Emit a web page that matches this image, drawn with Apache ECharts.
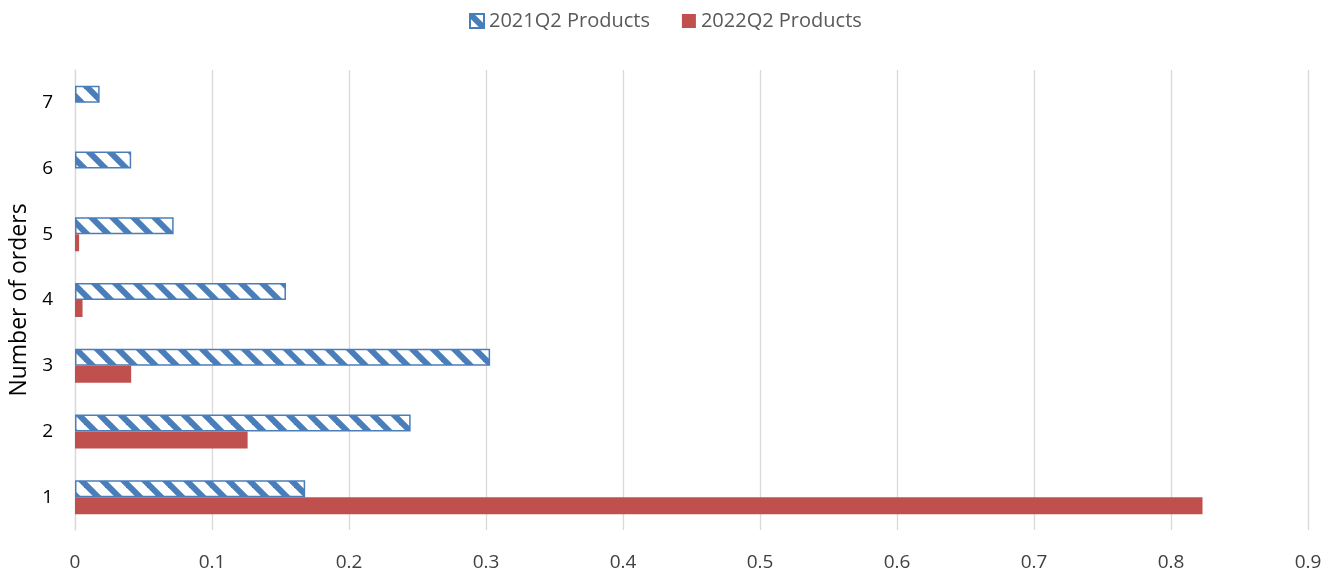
<!DOCTYPE html>
<html>
<head>
<meta charset="utf-8">
<script src="https://cdn.jsdelivr.net/npm/echarts@6/dist/echarts.min.js"></script>
<style>
  html, body { margin: 0; padding: 0; background: #fff; }
  #chart { width: 1339px; height: 572px; }
</style>
</head>
<body>
<div id="chart"></div>
<script>
var orders = ['1', '2', '3', '4', '5', '6', '7'];
var products2021 = [0.168, 0.245, 0.303, 0.154, 0.072, 0.041, 0.018];
var products2022 = [0.823, 0.126, 0.041, 0.0055, 0.003, 0, 0];
var xTicks = [0, 0.1, 0.2, 0.3, 0.4, 0.5, 0.6, 0.7, 0.8, 0.9];

// diagonal hatch for the 2021 bars
function makeHatch () {
  var s = 21;
  var c = document.createElement('canvas');
  c.width = s; c.height = s;
  var ctx = c.getContext('2d');
  ctx.fillStyle = '#fff';
  ctx.fillRect(0, 0, s, s);
  ctx.strokeStyle = '#4a7ebb';
  ctx.lineWidth = 6;
  for (var k = -2; k <= 2; k++) {
    ctx.beginPath();
    ctx.moveTo(k * s - s, -s);
    ctx.lineTo(k * s + 2 * s, 2 * s);
    ctx.stroke();
  }
  return c;
}

var chartDom = document.getElementById('chart');
var myChart = echarts.init(chartDom);
var option;

option = {
  animation: false,
  textStyle: { fontFamily: 'Open Sans' },
  legend: {
    data: ['2021Q2 Products', '2022Q2 Products'],
    icon: 'rect',
    left: 464,
    top: 6,
    itemWidth: 14,
    itemHeight: 14,
    itemGap: 32,
    textStyle: { fontSize: 20, color: '#595959' }
  },
  grid: { left: 75, right: 31, top: 70, bottom: 42, containLabel: false, outerBoundsMode: 'none' },
  xAxis: {
    type: 'value',
    min: 0,
    max: 0.9,
    interval: 0.1,
    axisLine: { show: false },
    axisTick: { show: false },
    axisLabel: {
      fontSize: 19,
      color: '#404040',
      margin: 23,
      formatter: function (v) {
        var t = xTicks.find(function (x) { return Math.abs(x - v) < 1e-9; });
        return t === undefined ? '' : String(t);
      }
    },
    splitLine: { lineStyle: { color: '#d9d9d9', width: 1.3 } }
  },
  yAxis: {
    type: 'category',
    data: orders,
    name: 'Number of orders',
    nameLocation: 'middle',
    nameGap: 44,
    nameTextStyle: { fontSize: 23, color: '#000' },
    axisLine: { show: true, lineStyle: { color: '#d9d9d9', width: 1.3 } },
    axisTick: { show: false },
    axisLabel: { fontSize: 19, color: '#000', margin: 22 }
  },
  series: [
    {
      name: '2021Q2 Products',
      type: 'bar',
      data: products2021,
      barWidth: 17,
      barGap: '0%',
      itemStyle: {
        color: { image: makeHatch(), repeat: 'repeat' },
        borderColor: '#4a7ebb',
        borderWidth: 1.5
      }
    },
    {
      name: '2022Q2 Products',
      type: 'bar',
      data: products2022,
      barWidth: 17,
      barGap: '0%',
      itemStyle: { color: '#c0504d' }
    }
  ]
};

option && myChart.setOption(option);
</script>
</body>
</html>
